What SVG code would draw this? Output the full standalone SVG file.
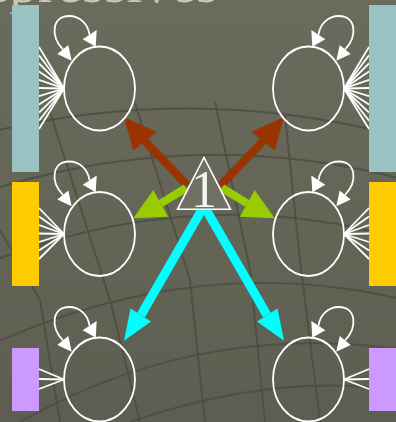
<svg xmlns="http://www.w3.org/2000/svg" xmlns:xlink="http://www.w3.org/1999/xlink" width="396" height="422" viewBox="0 0 396 422">
<defs>
<linearGradient id="bg" x1="0" y1="0" x2="0" y2="1">
<stop offset="0" stop-color="#6b6b5d"/>
<stop offset="1" stop-color="#5d5e51"/>
</linearGradient>
<g id="loop">
<path d="M -36.5,-39 C -49.5,-52.5 -47.5,-72.5 -30.5,-72.5 C -19.5,-72.5 -11.5,-64.5 -10,-53.8" fill="none" stroke="#fff" stroke-width="1.8"/>
<polygon points="-42.2,-34.5 -31.2,-43.5 -27.8,-27.8" fill="#fff"/>
<polygon points="-16.8,-49.2 -2.8,-58.5 -3.8,-41.8" fill="#fff"/>
<ellipse cx="0" cy="0" rx="35.5" ry="42" fill="none" stroke="#fff" stroke-width="1.8"/>
</g>
</defs>
<style>
.grid{fill:none;stroke:#4b4c40;stroke-width:2;opacity:0.8}
.fan{stroke:#fff;stroke-width:1.8}
.txt{font-family:"Liberation Serif","Times New Roman",serif}
</style>
<rect x="0" y="0" width="396" height="422" fill="url(#bg)"/>
<g id="grid">
<path class="grid" d="M -10,132 Q 200,82 406,138"/>
<path class="grid" d="M -10,190 Q 200,125 406,180"/>
<path class="grid" d="M -10,262 Q 200,180 406,240"/>
<path class="grid" d="M -10,345 Q 200,250 406,300"/>
<path class="grid" d="M 20,422 Q 200,320 406,350"/>
<path class="grid" d="M 130,422 Q 280,370 406,392"/>
<path class="grid" d="M 50,112 L 110,300 L 140,422"/>
<path class="grid" d="M 135,103 L 190,280 L 205,422"/>
<path class="grid" d="M 215,102 L 250,270 L 265,422"/>
<path class="grid" d="M 285,115 L 300,260 L 320,422"/>
<path class="grid" d="M 0,230 L 40,300 L 60,422"/>
</g>
<text class="txt" x="-16" y="1.5" font-size="57" fill="#c9c8b2">epressives</text>
<g id="connectors">
<g id="fans">
<line class="fan" x1="64" y1="88.5" x2="39" y2="47"/>
<line class="fan" x1="64" y1="88.5" x2="39" y2="55.2"/>
<line class="fan" x1="64" y1="88.5" x2="39" y2="63.4"/>
<line class="fan" x1="64" y1="88.5" x2="39" y2="71.6"/>
<line class="fan" x1="64" y1="88.5" x2="39" y2="79.8"/>
<line class="fan" x1="64" y1="88.5" x2="39" y2="88"/>
<line class="fan" x1="64" y1="88.5" x2="39" y2="96.2"/>
<line class="fan" x1="64" y1="88.5" x2="39" y2="104.4"/>
<line class="fan" x1="64" y1="88.5" x2="39" y2="112.6"/>
<line class="fan" x1="64" y1="88.5" x2="39" y2="120.8"/>
<line class="fan" x1="64" y1="88.5" x2="39" y2="129"/>
<line class="fan" x1="64" y1="234" x2="39" y2="208"/>
<line class="fan" x1="64" y1="234" x2="39" y2="216.5"/>
<line class="fan" x1="64" y1="234" x2="39" y2="225"/>
<line class="fan" x1="64" y1="234" x2="39" y2="233.5"/>
<line class="fan" x1="64" y1="234" x2="39" y2="242"/>
<line class="fan" x1="64" y1="234" x2="39" y2="250.5"/>
<line class="fan" x1="64" y1="234" x2="39" y2="259"/>
<line class="fan" x1="64" y1="379.5" x2="39" y2="369"/>
<line class="fan" x1="64" y1="379.5" x2="39" y2="379"/>
<line class="fan" x1="64" y1="379.5" x2="39" y2="389"/>
<line class="fan" x1="344" y1="88.5" x2="369" y2="47"/>
<line class="fan" x1="344" y1="88.5" x2="369" y2="55.2"/>
<line class="fan" x1="344" y1="88.5" x2="369" y2="63.4"/>
<line class="fan" x1="344" y1="88.5" x2="369" y2="71.6"/>
<line class="fan" x1="344" y1="88.5" x2="369" y2="79.8"/>
<line class="fan" x1="344" y1="88.5" x2="369" y2="88"/>
<line class="fan" x1="344" y1="88.5" x2="369" y2="96.2"/>
<line class="fan" x1="344" y1="88.5" x2="369" y2="104.4"/>
<line class="fan" x1="344" y1="88.5" x2="369" y2="112.6"/>
<line class="fan" x1="344" y1="88.5" x2="369" y2="120.8"/>
<line class="fan" x1="344" y1="88.5" x2="369" y2="129"/>
<line class="fan" x1="344" y1="234" x2="369" y2="208"/>
<line class="fan" x1="344" y1="234" x2="369" y2="216.5"/>
<line class="fan" x1="344" y1="234" x2="369" y2="225"/>
<line class="fan" x1="344" y1="234" x2="369" y2="233.5"/>
<line class="fan" x1="344" y1="234" x2="369" y2="242"/>
<line class="fan" x1="344" y1="234" x2="369" y2="250.5"/>
<line class="fan" x1="344" y1="234" x2="369" y2="259"/>
<line class="fan" x1="344" y1="379.5" x2="369" y2="369"/>
<line class="fan" x1="344" y1="379.5" x2="369" y2="379"/>
<line class="fan" x1="344" y1="379.5" x2="369" y2="389"/>
</g>
<g id="arrows">
<line x1="187" y1="185" x2="145" y2="141.2" stroke="#993300" stroke-width="8"/>
<polygon points="124,117.3 133.3,150.7 156.7,131.7" fill="#993300"/>
<line x1="221" y1="185" x2="263" y2="141.2" stroke="#993300" stroke-width="8"/>
<polygon points="284,117.3 274.7,150.7 251.3,131.7" fill="#993300"/>
<line x1="186" y1="188" x2="160.8" y2="203.3" stroke="#99cc00" stroke-width="8"/>
<polygon points="133.3,218.3 153.3,190 168.3,216.7" fill="#99cc00"/>
<line x1="222" y1="188" x2="247.2" y2="203.3" stroke="#99cc00" stroke-width="8"/>
<polygon points="274.7,218.3 254.7,190 239.7,216.7" fill="#99cc00"/>
<polyline points="141,315 204,206 267,315" fill="none" stroke="#00ffff" stroke-width="9" stroke-linejoin="miter"/>
<polygon points="124,340.7 130.5,308.5 151,321.5" fill="#00ffff"/>
<polygon points="284,340.7 277.5,308.5 257,321.5" fill="#00ffff"/>
</g>
</g>
<g id="node-center">
<polygon points="204,157.5 177.5,209.3 230.5,209.3" fill="#707164" stroke="#fff" stroke-width="1.6"/>
<text class="txt" x="204" y="207" font-size="52" fill="#f4f4f0" text-anchor="middle">1</text>
</g>
<g id="node-l1"><use xlink:href="#loop" transform="translate(99.5,88.5)"/></g>
<g id="node-l2"><use xlink:href="#loop" transform="translate(99.5,234)"/></g>
<g id="node-l3"><use xlink:href="#loop" transform="translate(99.5,379.5)"/></g>
<g id="node-r1"><use xlink:href="#loop" transform="translate(308.5,88.5) scale(-1,1)"/></g>
<g id="node-r2"><use xlink:href="#loop" transform="translate(308.5,234) scale(-1,1)"/></g>
<g id="node-r3"><use xlink:href="#loop" transform="translate(308.5,379.5) scale(-1,1)"/></g>
<g id="rect-l1"><rect x="12" y="5" width="27" height="167" fill="#9bc2c2"/></g>
<g id="rect-l2"><rect x="12" y="182" width="27" height="104" fill="#ffcc00"/></g>
<g id="rect-l3"><rect x="12" y="348" width="27" height="63" fill="#cc99ff"/></g>
<g id="rect-r1"><rect x="369" y="5" width="27" height="167" fill="#9bc2c2"/></g>
<g id="rect-r2"><rect x="369" y="182" width="27" height="104" fill="#ffcc00"/></g>
<g id="rect-r3"><rect x="369" y="348" width="27" height="63" fill="#cc99ff"/></g>
</svg>
